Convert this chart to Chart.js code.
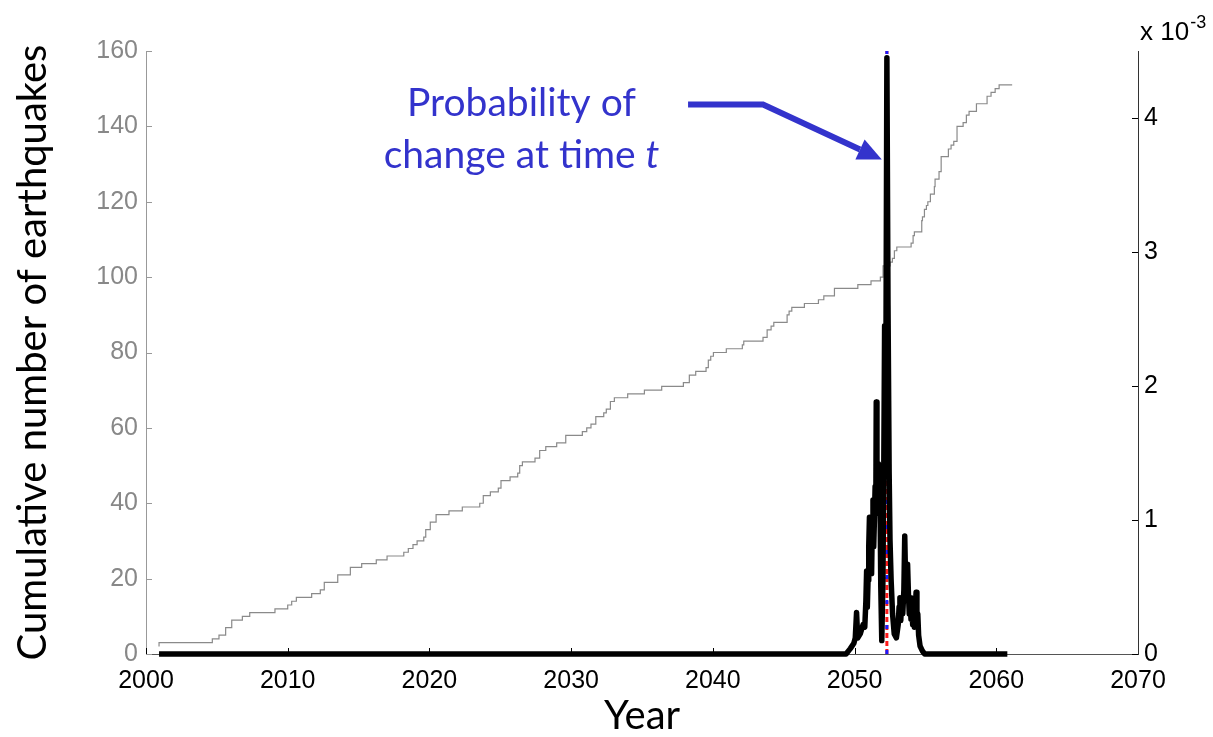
<!DOCTYPE html>
<html>
<head>
<meta charset="utf-8">
<script src="https://cdn.jsdelivr.net/npm/chart.js@4.4.0/dist/chart.umd.min.js"></script>
<style>
  html, body { margin: 0; padding: 0; background: #fff; }
  #wrap { width: 1213px; height: 737px; position: relative; }
</style>
</head>
<body>
<div id="wrap"><canvas id="quakeChart"></canvas></div>
<script>
// cumulative number of earthquakes, one step per event
const quakeYears = [2000.92, 2004.68, 2005.15, 2005.62, 2006.05, 2006.80, 2007.32, 2009.10, 2010.00, 2010.28,
  2010.61, 2011.69, 2012.30, 2012.58, 2013.53, 2014.42, 2015.22, 2016.25, 2017.01, 2018.19,
  2018.51, 2018.84, 2019.13, 2019.60, 2019.74, 2020.06, 2020.47, 2021.38, 2022.32, 2023.55,
  2023.80, 2024.30, 2024.86, 2025.05, 2025.69, 2026.23, 2026.37, 2026.56, 2027.45, 2027.78,
  2028.21, 2028.98, 2029.62, 2030.79, 2031.10, 2031.40, 2031.74, 2032.30, 2032.48, 2032.77,
  2033.05, 2033.99, 2035.17, 2036.39, 2037.92, 2038.34, 2038.79, 2039.52, 2039.68, 2039.85,
  2040.04, 2040.95, 2042.08, 2042.18, 2043.54, 2043.83, 2044.11, 2044.30, 2045.24, 2045.38,
  2045.57, 2046.46, 2047.45, 2047.83, 2048.58, 2050.23, 2051.16, 2051.82, 2052.01, 2052.51,
  2052.67, 2052.81, 2052.98, 2053.99, 2054.13, 2054.22, 2054.74, 2054.79, 2054.93, 2055.07,
  2055.17, 2055.35, 2055.63, 2055.68, 2055.96, 2056.11, 2056.62, 2056.81, 2057.00, 2057.23,
  2057.66, 2057.89, 2058.08, 2058.60, 2059.35, 2059.63, 2059.92, 2060.20, 2060.85, 2061.12];
const quakeCounts = [2, 3, 4, 5, 7, 9, 10, 11, 12, 13,
  14, 15, 16, 17, 19, 21, 23, 24, 25, 26,
  27, 28, 29, 30, 31, 33, 35, 37, 38, 39,
  40, 42, 43, 44, 46, 47, 48, 50, 51, 52,
  54, 55, 56, 58, 59, 60, 61, 63, 64, 65,
  67, 68, 69, 70, 71, 72, 74, 75, 76, 78,
  79, 80, 81, 82, 83, 84, 86, 87, 88, 90,
  91, 92, 93, 94, 95, 97, 98, 99, 100, 103,
  104, 105, 107, 108, 109, 111, 112, 115, 116, 118,
  119, 120, 122, 124, 126, 128, 132, 134, 135, 136,
  140, 141, 143, 144, 146, 148, 149, 150, 151, 151];

// probability of the change point at time t (units of 1e-3)
const changeYears = [2000.92, 2049.40, 2049.70, 2049.95, 2050.05, 2050.14, 2050.22, 2050.40, 2050.60, 2050.72,
  2050.80, 2050.85, 2050.90, 2050.95, 2051.00, 2051.05, 2051.10, 2051.15, 2051.20, 2051.25,
  2051.30, 2051.35, 2051.40, 2051.45, 2051.50, 2051.53, 2051.58, 2051.63, 2051.68, 2051.73,
  2051.78, 2051.85, 2051.92, 2052.00, 2052.06, 2052.12, 2052.19, 2052.28, 2052.36, 2052.44,
  2052.50, 2052.58, 2052.68, 2052.80, 2052.95, 2053.08, 2053.14, 2053.20, 2053.26, 2053.32,
  2053.40, 2053.48, 2053.54, 2053.60, 2053.66, 2053.74, 2053.80, 2053.86, 2053.92, 2053.98,
  2054.04, 2054.10, 2054.16, 2054.22, 2054.28, 2054.34, 2054.40, 2054.46, 2054.52, 2054.62,
  2054.80, 2054.95, 2060.78];
const changeProb = [0, 0, 0.04, 0.08, 0.12, 0.31, 0.12, 0.15, 0.22, 0.20,
  0.40, 0.62, 0.35, 0.55, 0.80, 1.02, 0.70, 0.85, 0.60, 0.95,
  1.15, 0.80, 1.00, 1.25, 1.10, 1.88, 1.30, 1.05, 1.42, 1.20,
  1.38, 0.50, 0.10, 0.55, 1.35, 2.45, 1.40, 4.45, 2.60, 1.35,
  0.85, 0.55, 0.30, 0.15, 0.12, 0.22, 0.35, 0.42, 0.25, 0.38,
  0.30, 0.48, 0.88, 0.55, 0.40, 0.67, 0.45, 0.30, 0.42, 0.26,
  0.38, 0.22, 0.34, 0.20, 0.32, 0.46, 0.25, 0.30, 0.14, 0.06,
  0.02, 0, 0];

const changeMode = 2052.28;   // most likely change time
const yearRange = [2000, 2070];
const countRange = [0, 160];
const probRange = [0, 4.5];

// callout, placed in (year, probability) units
const calloutArrow = [[2038.25, 4.10], [2043.54, 4.10], [2051.92, 3.69]];
const calloutText = [
  { year: 2026.5, prob: 4.11, text: 'Probability of', italic: '' },
  { year: 2026.5, prob: 3.72, text: 'change at time ', italic: 't' }
];

const tickFont = { family: "'Liberation Sans', Arial, sans-serif", size: 25 };
const titleFamily = "Lato, 'Open Sans', sans-serif";
const calloutColor = '#3333cc';
const calloutSize = 39;

const toXY = (xs, ys) => xs.map((v, i) => ({ x: v, y: ys[i] }));

// MATLAB style inward ticks, the blue callout and the exponent label
const decorations = {
  id: 'decorations',
  afterDraw(chart) {
    const { ctx, chartArea: area, scales: { x, y, y2 } } = chart;
    ctx.save();
    ctx.lineWidth = 1;

    ctx.strokeStyle = '#999';
    y.ticks.forEach(t => {
      const py = Math.round(y.getPixelForValue(t.value)) + 0.5;
      ctx.beginPath(); ctx.moveTo(area.left, py); ctx.lineTo(area.left + 6, py); ctx.stroke();
    });
    ctx.strokeStyle = '#000';
    x.ticks.forEach(t => {
      if (t.value >= yearRange[1]) return;
      const px = Math.round(x.getPixelForValue(t.value)) + 0.5;
      ctx.beginPath(); ctx.moveTo(px, area.bottom); ctx.lineTo(px, area.bottom - 6); ctx.stroke();
    });
    y2.ticks.forEach(t => {
      const py = Math.round(y2.getPixelForValue(t.value)) + 0.5;
      ctx.beginPath(); ctx.moveTo(area.right, py); ctx.lineTo(area.right - 6, py); ctx.stroke();
    });

    // exponent of the right axis
    ctx.fillStyle = '#000';
    ctx.textBaseline = 'alphabetic';
    ctx.textAlign = 'left';
    ctx.font = `26px ${tickFont.family}`;
    ctx.fillText('x 10', area.right + 2, area.top - 11);
    const w = ctx.measureText('x 10').width;
    ctx.font = `18px ${tickFont.family}`;
    ctx.fillText('-3', area.right + 3 + w, area.top - 23);

    // arrow
    const pts = calloutArrow.map(([a, b]) => [x.getPixelForValue(a), y2.getPixelForValue(b)]);
    const [tx, ty] = pts[pts.length - 1];
    const [kx, ky] = pts[pts.length - 2];
    const ang = Math.atan2(ty - ky, tx - kx);
    const headLen = 24, headHalf = 11;
    const bx = tx - headLen * Math.cos(ang), by = ty - headLen * Math.sin(ang);
    ctx.strokeStyle = calloutColor;
    ctx.fillStyle = calloutColor;
    ctx.lineWidth = 6;
    ctx.lineJoin = 'miter';
    ctx.beginPath();
    ctx.moveTo(pts[0][0], pts[0][1]);
    for (let i = 1; i < pts.length - 1; i++) ctx.lineTo(pts[i][0], pts[i][1]);
    ctx.lineTo(bx, by);
    ctx.stroke();
    ctx.beginPath();
    ctx.moveTo(tx, ty);
    ctx.lineTo(bx + headHalf * Math.sin(ang), by - headHalf * Math.cos(ang));
    ctx.lineTo(bx - headHalf * Math.sin(ang), by + headHalf * Math.cos(ang));
    ctx.closePath();
    ctx.fill();

    // callout text
    ctx.textBaseline = 'middle';
    const plain = `${calloutSize}px ${titleFamily}`;
    const slanted = `italic ${calloutSize}px ${titleFamily}`;
    calloutText.forEach(line => {
      ctx.font = plain;
      const w1 = ctx.measureText(line.text).width;
      ctx.font = slanted;
      const w2 = line.italic ? ctx.measureText(line.italic).width : 0;
      const cx = x.getPixelForValue(line.year);
      const cy = y2.getPixelForValue(line.prob);
      const left = cx - (w1 + w2) / 2;
      ctx.font = plain;
      ctx.fillText(line.text, left, cy);
      if (line.italic) {
        ctx.font = slanted;
        ctx.fillText(line.italic, left + w1, cy);
      }
    });
    ctx.restore();
  }
};

new Chart(document.getElementById('quakeChart'), {
  type: 'line',
  data: {
    datasets: [
      {
        label: 'Probability of change',
        data: toXY(changeYears, changeProb),
        yAxisID: 'y2',
        borderColor: '#000',
        borderWidth: 5.5,
        borderJoinStyle: 'round',
        borderCapStyle: 'butt',
        pointRadius: 0,
        tension: 0,
        clip: 6
      },
      {
        label: 'Change time (blue)',
        data: [{ x: changeMode, y: probRange[0] }, { x: changeMode, y: probRange[1] }],
        yAxisID: 'y2',
        borderColor: '#1a1aff',
        borderWidth: 3,
        borderDash: [4, 21],
        pointRadius: 0
      },
      {
        label: 'Change time (red)',
        data: [{ x: changeMode, y: probRange[0] }, { x: changeMode, y: probRange[1] }],
        yAxisID: 'y2',
        borderColor: '#ff1a1a',
        borderWidth: 3,
        borderDash: [5, 3],
        pointRadius: 0
      },
      {
        label: 'Cumulative number',
        data: toXY(quakeYears, quakeCounts),
        yAxisID: 'y',
        borderColor: '#8a8a8a',
        borderWidth: 1.2,
        stepped: 'after',
        pointRadius: 0
      }
    ]
  },
  options: {
    responsive: true,
    maintainAspectRatio: false,
    animation: false,
    layout: { padding: { top: 51, left: 0, right: 0, bottom: 0 } },
    plugins: {
      legend: { display: false },
      tooltip: { enabled: false }
    },
    scales: {
      x: {
        type: 'linear',
        min: yearRange[0],
        max: yearRange[1],
        afterFit: s => { s.height = 83; },
        ticks: {
          stepSize: 10,
          color: '#000',
          font: tickFont,
          padding: 12,
          maxRotation: 0,
          autoSkip: false,
          callback: v => String(v)
        },
        grid: { drawOnChartArea: false, drawTicks: false },
        border: { color: '#555', width: 1 },
        title: {
          display: true,
          text: 'Year',
          color: '#000',
          font: { family: titleFamily, size: 40, lineHeight: 1 },
          padding: { top: 0, bottom: 1 }
        }
      },
      y: {
        position: 'left',
        min: countRange[0],
        max: countRange[1],
        afterFit: s => { s.width = 146; },
        ticks: { stepSize: 20, color: '#888', font: tickFont, padding: 8 },
        grid: { drawOnChartArea: false, drawTicks: false },
        border: { color: '#999', width: 1 },
        title: {
          display: true,
          text: 'Cumulative number of earthquakes',
          color: '#000',
          font: { family: titleFamily, size: 40, lineHeight: 1 },
          padding: { top: 13, bottom: 0 }
        }
      },
      y2: {
        position: 'right',
        min: probRange[0],
        max: probRange[1],
        afterFit: s => { s.width = 75; },
        ticks: { stepSize: 1, includeBounds: false, color: '#000', font: tickFont, padding: 6 },
        grid: { drawOnChartArea: false, drawTicks: false },
        border: { color: '#333', width: 1 }
      }
    }
  },
  plugins: [decorations]
});
</script>
</body>
</html>
